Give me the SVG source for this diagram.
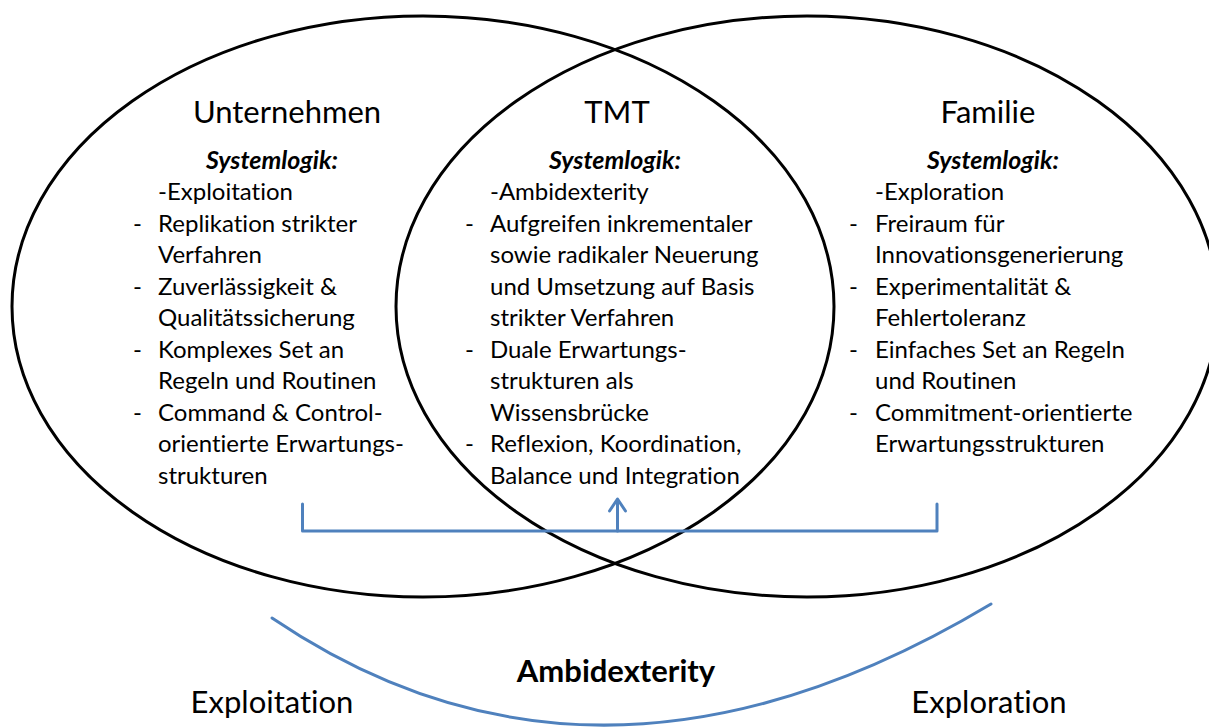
<svg xmlns="http://www.w3.org/2000/svg" width="1209" height="728" viewBox="0 0 1209 728">
  <style>
    text { font-variant-ligatures: none; font-feature-settings: "liga" 0, "clig" 0; }
    .ring { fill: none; stroke: #000; stroke-width: 3; }
    .title { font-family: Lato, "Liberation Sans", sans-serif; font-size: 31px; fill: #000; text-anchor: middle; }
    .sys { font-family: Lato, "Liberation Sans", sans-serif; font-size: 25px; font-weight: bold; font-style: italic; fill: #000; text-anchor: middle; }
    .body { font-family: Lato, "Liberation Sans", sans-serif; font-size: 24px; fill: #000; }
    .amb { font-family: Lato, "Liberation Sans", sans-serif; font-size: 31px; font-weight: bold; fill: #000; text-anchor: middle; }
    .conn { fill: none; stroke: #4F81BD; stroke-width: 3; stroke-linecap: round; stroke-linejoin: round; }
  </style>
  <rect width="1209" height="728" fill="#fff"/>

  <g id="unternehmen">
    <ellipse class="ring" cx="423" cy="306.5" rx="411" ry="290.5"/>
    <text class="title" x="287" y="122.5">Unternehmen</text>
    <text class="sys" x="272" y="168.5">Systemlogik:</text>
    <text class="body" x="158" y="200">-Exploitation</text>
    <text class="body" x="133" y="231.5">-</text>
    <text class="body" x="158" y="231.5">Replikation strikter</text>
    <text class="body" x="158" y="263">Verfahren</text>
    <text class="body" x="133" y="294.5">-</text>
    <text class="body" x="158" y="294.5">Zuverlässigkeit &amp;</text>
    <text class="body" x="158" y="326">Qualitätssicherung</text>
    <text class="body" x="133" y="357.5">-</text>
    <text class="body" x="158" y="357.5">Komplexes Set an</text>
    <text class="body" x="158" y="389">Regeln und Routinen</text>
    <text class="body" x="133" y="420.5">-</text>
    <text class="body" x="158" y="420.5">Command &amp; Control-</text>
    <text class="body" x="158" y="452">orientierte Erwartungs-</text>
    <text class="body" x="158" y="483.5">strukturen</text>
  </g>

  <g id="familie">
    <ellipse class="ring" cx="807" cy="306.5" rx="411" ry="290.5"/>
    <text class="title" x="988" y="122.5">Familie</text>
    <text class="sys" x="993" y="168.5">Systemlogik:</text>
    <text class="body" x="875" y="200">-Exploration</text>
    <text class="body" x="849" y="231.5">-</text>
    <text class="body" x="875" y="231.5">Freiraum für</text>
    <text class="body" x="875" y="263">Innovationsgenerierung</text>
    <text class="body" x="849" y="294.5">-</text>
    <text class="body" x="875" y="294.5">Experimentalität &amp;</text>
    <text class="body" x="875" y="326">Fehlertoleranz</text>
    <text class="body" x="849" y="357.5">-</text>
    <text class="body" x="875" y="357.5">Einfaches Set an Regeln</text>
    <text class="body" x="875" y="389">und Routinen</text>
    <text class="body" x="849" y="420.5">-</text>
    <text class="body" x="875" y="420.5">Commitment-orientierte</text>
    <text class="body" x="875" y="452">Erwartungsstrukturen</text>
  </g>

  <g id="tmt">
    <text class="title" x="617" y="122.5">TMT</text>
    <text class="sys" x="615" y="168.5">Systemlogik:</text>
    <text class="body" x="490" y="200">-Ambidexterity</text>
    <text class="body" x="465" y="231.5">-</text>
    <text class="body" x="490" y="231.5">Aufgreifen inkrementaler</text>
    <text class="body" x="490" y="263">sowie radikaler Neuerung</text>
    <text class="body" x="490" y="294.5">und Umsetzung auf Basis</text>
    <text class="body" x="490" y="326">strikter Verfahren</text>
    <text class="body" x="465" y="357.5">-</text>
    <text class="body" x="490" y="357.5">Duale Erwartungs-</text>
    <text class="body" x="490" y="389">strukturen als</text>
    <text class="body" x="490" y="420.5">Wissensbrücke</text>
    <text class="body" x="465" y="452">-</text>
    <text class="body" x="490" y="452">Reflexion, Koordination,</text>
    <text class="body" x="490" y="483.5">Balance und Integration</text>
  </g>

  <g id="connectors">
    <path class="conn" d="M302.5,504 V531 H937 V504"/>
    <path class="conn" d="M617.5,531 V500"/>
    <path class="conn" d="M609.5,511 L617.5,499 L625.5,511"/>
    <path class="conn" d="M272,618 Q598.5,839 991,604"/>
  </g>

  <g id="labels">
    <text class="amb" x="616" y="682">Ambidexterity</text>
    <text class="title" x="272" y="713">Exploitation</text>
    <text class="title" x="989" y="713">Exploration</text>
  </g>
</svg>
